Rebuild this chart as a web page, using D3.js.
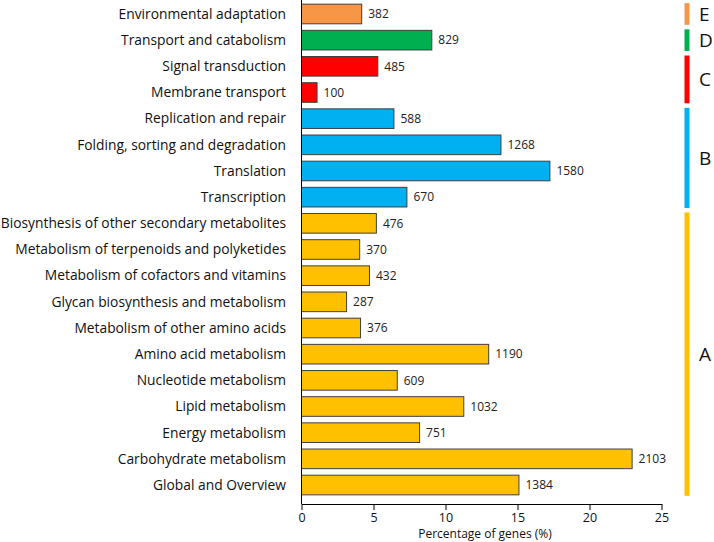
<!DOCTYPE html>
<html>
<head>
<meta charset="utf-8">
<script src="https://cdn.jsdelivr.net/npm/d3@7"></script>
<style>
  html, body { margin: 0; padding: 0; background: #fff; }
  svg { display: block; font-family: "Open Sans", "Liberation Sans", sans-serif; }
</style>
</head>
<body>
<svg id="chart" width="714" height="542"></svg>
<script>
const categories = [
  "Environmental adaptation",
  "Transport and catabolism",
  "Signal transduction",
  "Membrane transport",
  "Replication and repair",
  "Folding, sorting and degradation",
  "Translation",
  "Transcription",
  "Biosynthesis of other secondary metabolites",
  "Metabolism of terpenoids and polyketides",
  "Metabolism of cofactors and vitamins",
  "Glycan biosynthesis and metabolism",
  "Metabolism of other amino acids",
  "Amino acid metabolism",
  "Nucleotide metabolism",
  "Lipid metabolism",
  "Energy metabolism",
  "Carbohydrate metabolism",
  "Global and Overview"
];
const percentages = [4.18, 9.05, 5.3, 1.08, 6.42, 13.85, 17.25, 7.32, 5.2, 4.04, 4.72, 3.13, 4.1, 13.0, 6.65, 11.27, 8.2, 22.96, 15.1];
const geneCounts = [382, 829, 485, 100, 588, 1268, 1580, 670, 476, 370, 432, 287, 376, 1190, 609, 1032, 751, 2103, 1384];
const groupOf = ["E","D","C","C","B","B","B","B","A","A","A","A","A","A","A","A","A","A","A"];
const groups = ["E","D","C","B","A"];
const groupColors = ["#F79646", "#00B050", "#FF0000", "#00B0F0", "#FFC000"];
const xTicks = [0, 5, 10, 15, 20, 25];
const xTitle = "Percentage of genes (%)";

const svg = d3.select("#chart");
const color = d3.scaleOrdinal().domain(groups).range(groupColors);

const x = d3.scaleLinear().domain([0, 25]).range([301.5, 661.5]);
const y = d3.scaleBand().domain(categories).range([0.9, 498.1])
  .paddingInner(0.25).paddingOuter(0.125);

const data = categories.map((c, i) => ({cat: c, pct: percentages[i], n: geneCounts[i], g: groupOf[i]}));

// bars
svg.append("g").selectAll("rect").data(data).join("rect")
  .attr("x", x(0))
  .attr("y", d => y(d.cat))
  .attr("width", d => x(d.pct) - x(0))
  .attr("height", y.bandwidth())
  .attr("fill", d => color(d.g))
  .attr("stroke", "#3f3f3f")
  .attr("stroke-width", 1);

// value labels
svg.append("g").selectAll("text").data(data).join("text")
  .attr("x", d => x(d.pct) + 6.5)
  .attr("y", d => y(d.cat) + y.bandwidth() / 2)
  .attr("dy", "0.35em")
  .attr("font-size", 12)
  .attr("fill", "#222")
  .text(d => d.n);

// category labels
svg.append("g").selectAll("text").data(data).join("text")
  .attr("x", 286)
  .attr("y", d => y(d.cat) + y.bandwidth() / 2)
  .attr("dy", "0.35em")
  .attr("text-anchor", "end")
  .attr("font-size", 13.8)
  .attr("fill", "#111")
  .text(d => d.cat);

// y axis line
svg.append("line")
  .attr("x1", x(0)).attr("x2", x(0))
  .attr("y1", 0).attr("y2", 504)
  .attr("stroke", "#000").attr("stroke-width", 1);

// x axis
const xAxis = svg.append("g")
  .attr("transform", "translate(0,504)")
  .call(d3.axisBottom(x).tickValues(xTicks).tickSize(6).tickSizeOuter(0).tickPadding(3));
xAxis.select(".domain").attr("stroke", "#000");
xAxis.selectAll(".tick line").attr("stroke", "#000");
xAxis.selectAll(".tick text")
  .attr("font-size", 12.5)
  .attr("fill", "#111")
  .attr("font-family", "Open Sans, sans-serif");

svg.append("text")
  .attr("x", 485).attr("y", 538)
  .attr("text-anchor", "middle")
  .attr("font-size", 12)
  .attr("fill", "#111")
  .text(xTitle);

// group brackets
const groupSpans = groups.map(g => {
  const cats = data.filter(d => d.g === g).map(d => d.cat);
  return {g, y0: y(cats[0]) - 1, y1: y(cats[cats.length - 1]) + y.bandwidth() + 1};
});
svg.append("g").selectAll("rect").data(groupSpans).join("rect")
  .attr("x", 684.5)
  .attr("width", 5)
  .attr("y", d => d.y0)
  .attr("height", d => d.y1 - d.y0)
  .attr("fill", d => color(d.g));
svg.append("g").selectAll("text").data(groupSpans).join("text")
  .attr("x", 699)
  .attr("y", d => (d.y0 + d.y1) / 2)
  .attr("dy", "0.36em")
  .attr("font-size", 19)
  .attr("fill", "#111")
  .text(d => d.g);
</script>
</body>
</html>
